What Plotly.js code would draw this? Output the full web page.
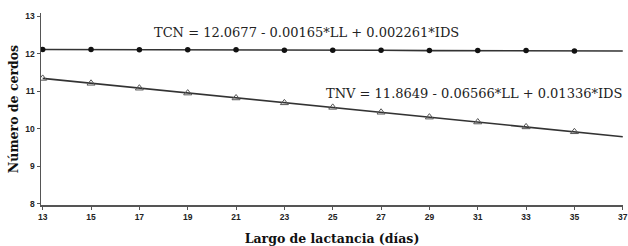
<!DOCTYPE html>
<html>
<head>
<meta charset="utf-8">
<script src="https://cdn.plot.ly/plotly-3.0.1.min.js"></script>
<style>html,body{margin:0;padding:0;background:#fff;}#chart{width:628px;height:246px;}</style>
</head>
<body>
<div id="chart"></div>
<script>
// Largo de lactancia (días)
var ll = [13, 15, 17, 19, 21, 23, 25, 27, 29, 31, 33, 35, 37];
// TCN fitted values (line), markers shown 13..35
var tcn = [12.11, 12.11, 12.10, 12.10, 12.10, 12.09, 12.09, 12.09, 12.08, 12.08, 12.08, 12.07, 12.07];
// TNV fitted values
var tnv = [11.34, 11.21, 11.08, 10.95, 10.82, 10.69, 10.57, 10.44, 10.31, 10.18, 10.05, 9.92, 9.79];
var xTicks = [13, 15, 17, 19, 21, 23, 25, 27, 29, 31, 33, 35, 37];
var yTicks = [8, 9, 10, 11, 12, 13];
var eqTCN = "TCN = 12.0677 - 0.00165*LL + 0.002261*IDS";
var eqTNV = "TNV = 11.8649 - 0.06566*LL + 0.01336*IDS";

var nMark = 12;
var traces = [
  {x: ll, y: tcn, mode: 'lines', line: {color: '#333', width: 1.6}, hoverinfo: 'skip'},
  {x: ll.slice(0, nMark), y: tcn.slice(0, nMark), mode: 'markers',
   marker: {symbol: 'circle', size: 5.5, color: '#111'}},
  {x: ll, y: tnv, mode: 'lines', line: {color: '#333', width: 1.6}, hoverinfo: 'skip'},
  {x: ll.slice(0, nMark), y: tnv.slice(0, nMark), mode: 'markers',
   marker: {symbol: 'triangle-up-open', size: 7, color: '#555', line: {width: 1, color: '#555'}}}
];

var tickFont = {family: 'Liberation Sans, Arial, sans-serif', size: 8.5, color: '#222', weight: 'bold'};
var titleFont = {family: 'DejaVu Serif, serif', size: 12.5, color: '#111', weight: 'bold'};

var layout = {
  width: 628, height: 246,
  margin: {l: 41, r: 5, t: 13, b: 41},
  paper_bgcolor: '#fff', plot_bgcolor: '#fff',
  showlegend: false,
  xaxis: {
    range: [12.93, 37.01], tickvals: xTicks, ticktext: xTicks.map(String),
    showgrid: false, zeroline: false, showline: true, linecolor: '#555', linewidth: 1.5,
    ticks: 'outside', ticklen: 3, tickcolor: '#555', tickwidth: 1,
    tickfont: tickFont,
    title: {text: 'Largo de lactancia (días)', font: titleFont, standoff: 14}
  },
  yaxis: {
    range: [7.973, 13.08], tickvals: yTicks, ticktext: yTicks.map(String),
    showgrid: false, zeroline: false, showline: true, linecolor: '#555', linewidth: 1.5,
    ticks: 'outside', ticklen: 3, tickcolor: '#555', tickwidth: 1,
    tickfont: tickFont,
    title: {text: 'Número de cerdos', font: titleFont, standoff: 4}
  },
  annotations: [
    {x: 23.93, y: 12.57, xref: 'x', yref: 'y', text: eqTCN, showarrow: false,
     xanchor: 'center', yanchor: 'middle',
     font: {family: 'DejaVu Serif, serif', size: 13, color: '#222'}},
    {x: 30.85, y: 10.95, xref: 'x', yref: 'y', text: eqTNV, showarrow: false,
     xanchor: 'center', yanchor: 'middle',
     font: {family: 'DejaVu Serif, serif', size: 13, color: '#222'}}
  ]
};

Plotly.newPlot('chart', traces, layout, {displayModeBar: false, staticPlot: true});
</script>
</body>
</html>
